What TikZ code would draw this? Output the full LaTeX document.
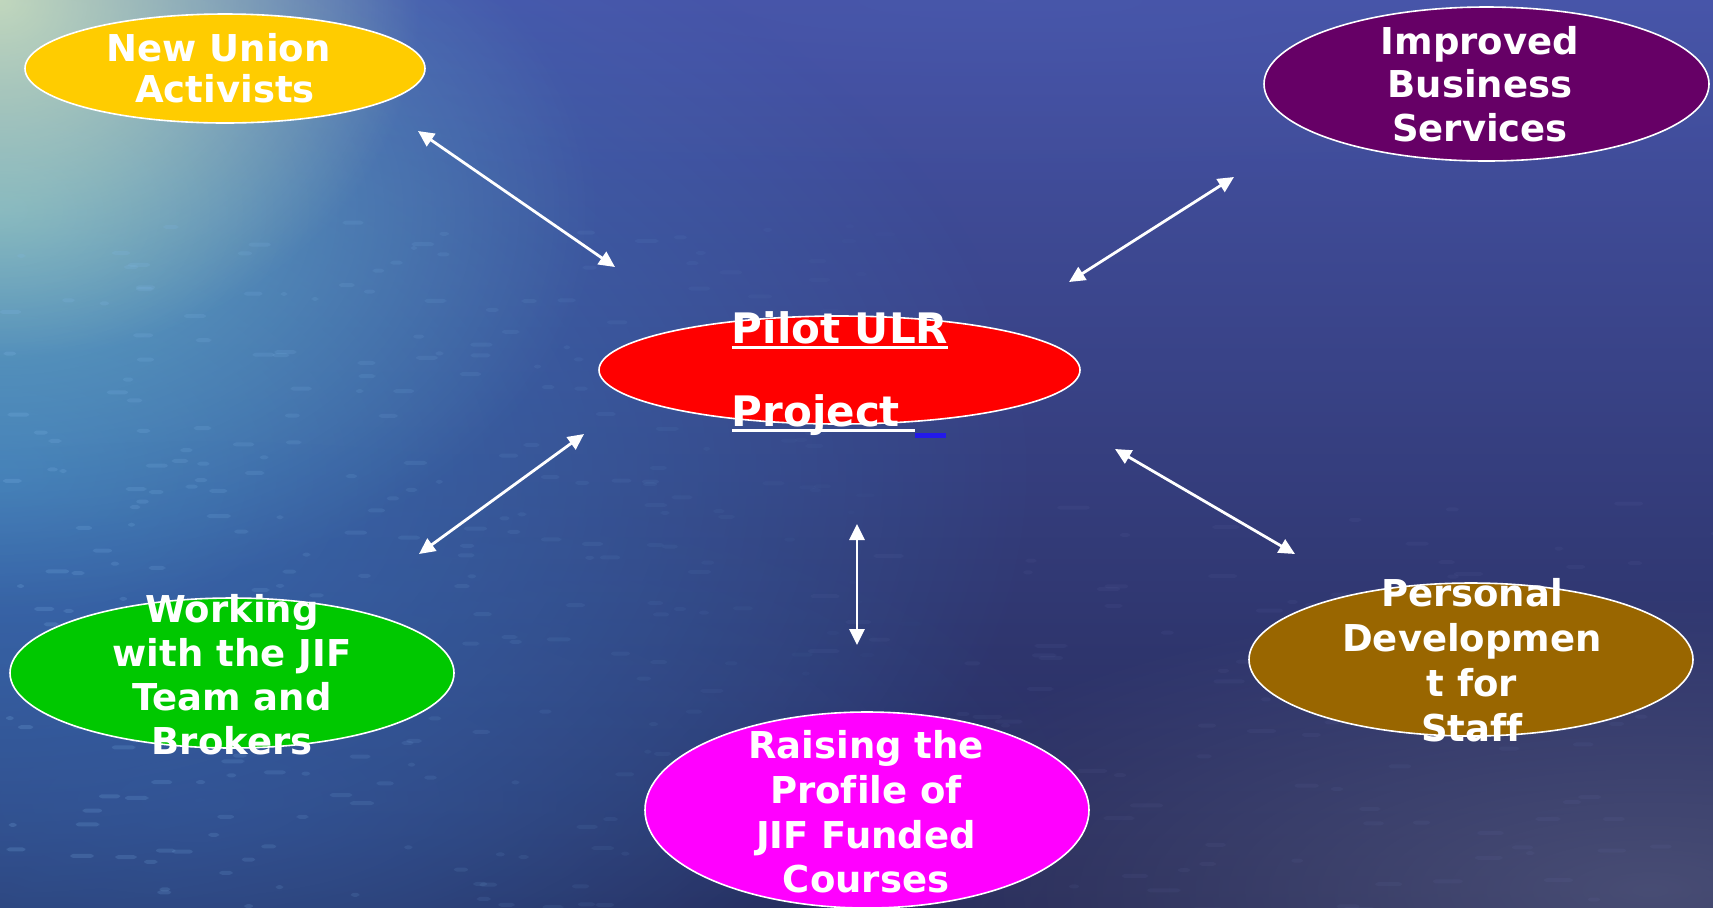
\documentclass[tikz,border=0pt]{standalone}
\usepackage{fontspec}
\setmainfont{DejaVu Sans}[Ligatures=NoCommon]
\usetikzlibrary{arrows.meta,shapes.geometric,fadings}

\definecolor{bgTop}{RGB}{70,84,168}
\definecolor{bgMid}{RGB}{38,46,118}
\definecolor{bgBot}{RGB}{37,41,86}
\definecolor{gTop}{RGB}{80,95,178}
\definecolor{gLeft}{RGB}{60,130,200}
\definecolor{gLow}{RGB}{55,95,170}
\definecolor{gTeal}{RGB}{110,185,200}
\definecolor{gPale}{RGB}{205,225,190}
\definecolor{gGray}{RGB}{95,100,135}
\definecolor{stkA}{RGB}{130,185,235}
\definecolor{stkB}{RGB}{120,130,190}
\definecolor{cYellow}{RGB}{255,204,0}
\definecolor{cPurple}{RGB}{102,0,102}
\definecolor{cRed}{RGB}{255,0,0}
\definecolor{cGreen}{RGB}{0,200,0}
\definecolor{cBrown}{RGB}{153,102,0}
\definecolor{cMagenta}{RGB}{255,0,255}
\definecolor{ulblue}{RGB}{35,25,235}

\tikzfading[name=softglow, inner color=transparent!0, outer color=transparent!100]

\newcommand\wul[1]{\leavevmode\setbox0\hbox{#1}\rlap{\rule[-2.65pt]{\wd0}{1.7pt}}\box0}
% glow: center x, center y, effective rx, effective ry, colour, opacity
\newcommand\myglow[6]{\fill[#5, opacity=#6, path fading=softglow, fit fading=true] (#1,#2) ellipse ({2*#3} and {2*#4});}

\tikzset{
  bubble/.style={ellipse, draw=white, line width=0.8pt, inner sep=0pt},
  lbl/.style={text=white, align=center, inner sep=0pt},
  link/.style={draw=white, line width=1.4pt, arrows={Triangle[length=8pt,width=7.5pt]-Triangle[length=8pt,width=7.5pt]}},
}

\begin{document}
\begin{tikzpicture}[x=0.5pt, y=-0.5pt]
\useasboundingbox (0,0) rectangle (1713,907);

% ---- water background ----
\shade[top color=bgTop, middle color=bgMid, bottom color=bgBot] (0,0) rectangle (1713,907);
\begin{scope}
\clip (0,0) rectangle (1713,907);
\myglow{1000}{0}{800}{110}{gTop}{0.2}
\myglow{0}{470}{520}{330}{gLeft}{0.75}
\myglow{200}{800}{450}{180}{gLow}{0.45}
\myglow{0}{210}{300}{200}{gTeal}{0.75}
\myglow{0}{0}{210}{180}{gPale}{0.9}
\myglow{1650}{890}{420}{150}{gGray}{0.6}
\pgfmathsetseed{7}
\foreach \i in {1,...,320}{
  \pgfmathsetmacro\sx{rnd*900}
  \pgfmathsetmacro\sy{220+rnd*690}
  \pgfmathsetmacro\sl{6+rnd*18}
  \pgfmathsetmacro\op{0.2*(1-\sx/950)}
  \fill[stkA, fill opacity=\op, rounded corners=1.5] (\sx,\sy) rectangle ++(\sl,4);
}
\foreach \i in {1,...,120}{
  \pgfmathsetmacro\sx{800+rnd*913}
  \pgfmathsetmacro\sy{500+rnd*410}
  \pgfmathsetmacro\sl{8+rnd*25}
  \fill[stkB, fill opacity=0.08, rounded corners=1.5] (\sx,\sy) rectangle ++(\sl,4);
}
\end{scope}

% ---- bubbles ----
\node[bubble, fill=cYellow,  minimum width=200pt,   minimum height=54.5pt] (union)  at (225,68.5) {};
\node[bubble, fill=cPurple,  minimum width=222.5pt, minimum height=77pt]   (biz)    at (1486.5,84) {};
\node[bubble, fill=cRed,     minimum width=240.5pt, minimum height=54pt]   (pilot)  at (839.5,370) {};
\node[bubble, fill=cGreen,   minimum width=222pt,   minimum height=75pt]   (jif)    at (232,673) {};
\node[bubble, fill=cBrown,   minimum width=222pt,   minimum height=76.5pt] (staff)  at (1471,659.5) {};
\node[bubble, fill=cMagenta, minimum width=222pt,   minimum height=98pt]   (raise)  at (867,810) {};

% ---- texts ----
\node[lbl, font=\bfseries\fontsize{18.5}{20.5}\selectfont] (uniont) at (union.center) {New Union\hspace*{0.35em}\\Activists};
\node[lbl, font=\bfseries\fontsize{18.5}{21.75}\selectfont] (bizt) at (1480,84) {Improved\\Business\\Services};
\node[lbl, font=\bfseries\fontsize{18.5}{22}\selectfont] (jift) at (232,675) {Working\\with the JIF\\Team and\\Brokers};
\node[lbl, font=\bfseries\fontsize{18.5}{22.5}\selectfont] (stafft) at (1472,660.5) {Personal\\Developmen\\t for\hspace*{0.35em}\\Staff};
\node[lbl, font=\bfseries\fontsize{18.5}{22.3}\selectfont] (raiset) at (866,812) {Raising the\\Profile of\hspace*{0.35em}\\JIF Funded\\Courses};
\node[lbl, align=left, font=\bfseries\fontsize{21}{41.5}\selectfont] (pilott) at (840,375)
  {\wul{Pilot ULR}\\\wul{Project\ }\textcolor{ulblue}{\rule[-5.65pt]{15.8pt}{2.5pt}}};

% ---- connectors ----
\coordinate (u1) at (418,131);  \coordinate (u2) at (615,267);
\coordinate (b1) at (1234,177); \coordinate (b2) at (1069,282);
\coordinate (j1) at (419,554);  \coordinate (j2) at (584,434);
\coordinate (s1) at (1295,554); \coordinate (s2) at (1115,449);
\coordinate (r1) at (857,645);  \coordinate (r2) at (857,524);
\draw[link] (u1) -- (u2);
\draw[link] (b1) -- (b2);
\draw[link] (j1) -- (j2);
\draw[link] (s1) -- (s2);
\draw[link] (r1) -- (r2);
\end{tikzpicture}
\end{document}
